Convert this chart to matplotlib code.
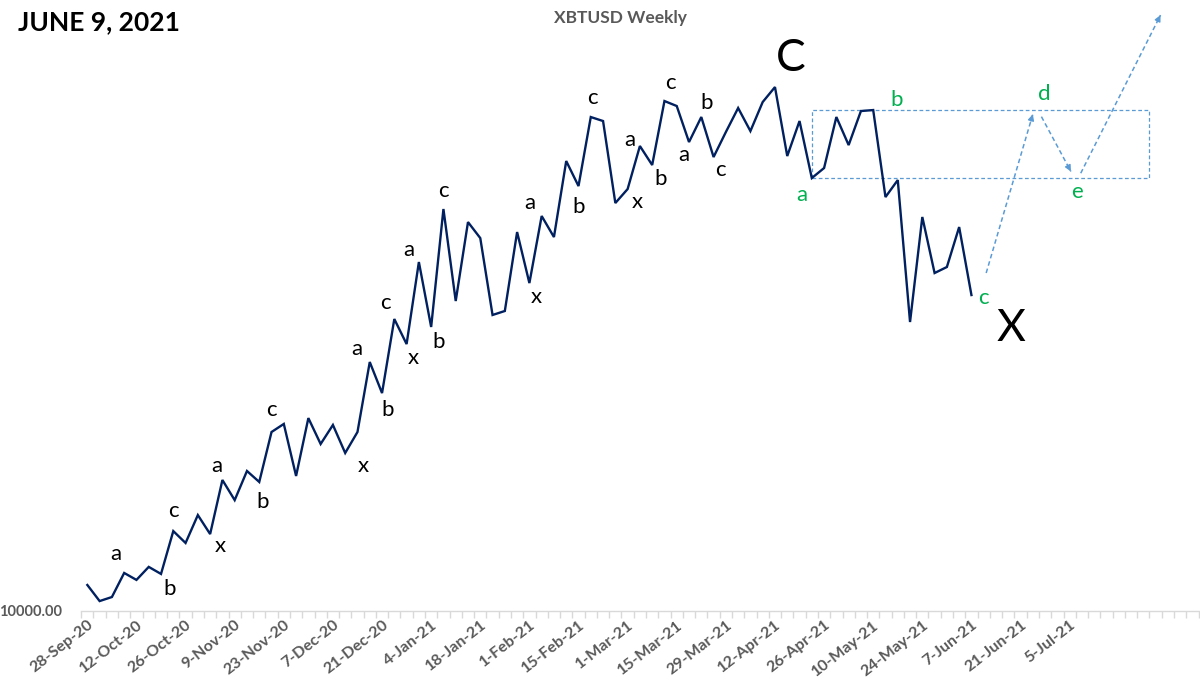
import numpy as np
import matplotlib
matplotlib.use("Agg")
import matplotlib.pyplot as plt
from matplotlib.ticker import FixedLocator, NullLocator

plt.rcParams['font.family'] = ['Lato', 'DejaVu Sans']

## data: XBTUSD, two closes per week starting 28-Sep-20
price = [10970, 10360, 10510, 11450, 11170, 11700, 11410, 13290, 12740, 14070,
         13150, 15940, 14840, 16460, 15830, 18910, 19460, 16170, 19870, 18120,
         19390, 17550, 18910, 24260, 21720, 28270, 25860, 34630, 27480, 41820,
         30140, 39920, 37710, 28680, 29090, 38530, 32130, 40790, 37850, 49610,
         45380, 58020, 57200, 42720, 44900, 52330, 48910, 61420, 60340, 53080,
         58020, 50320, 55000, 59910, 55190, 61200, 64550, 50500, 57200, 46690,
         48390, 58020, 52510, 59270, 59480, 43640, 46360, 27970, 40650, 33300,
         34020, 39220, 30790]

tick_labels = ["28-Sep-20", "12-Oct-20", "26-Oct-20", "9-Nov-20", "23-Nov-20",
               "7-Dec-20", "21-Dec-20", "4-Jan-21", "18-Jan-21", "1-Feb-21",
               "15-Feb-21", "1-Mar-21", "15-Mar-21", "29-Mar-21", "12-Apr-21",
               "26-Apr-21", "10-May-21", "24-May-21", "7-Jun-21", "21-Jun-21",
               "5-Jul-21"]
n_slots = 91  # categories on the axis (incl. empty future ones)

# triangle box (a-b range) and projected path d / e
box_x = [59, 86.5]
box_y = [46690, 59480]
fc_x0 = [73.2, 77.7, 80.9]
fc_y0 = [33300, 58100, 47500]
fc_x1 = [77.0, 80.1, 87.4]
fc_y1 = [58600, 47800, 83400]

# wave labels: text, point index, offset in pixels (dx, dy up)
black_labels = [("a", 3, -8, 19), ("b", 6, 9, -15), ("c", 7, 0, 20), ("x", 10, 10, -12),
                ("a", 11, -6, 14), ("b", 14, 3, -20), ("c", 15, 0, 22), ("x", 21, 18, -13),
                ("a", 23, -13, 13), ("b", 24, 6, -17), ("c", 25, -9, 16), ("x", 26, 7, -14),
                ("a", 27, -10, 12), ("b", 28, 7, -15), ("c", 29, 0, 18), ("x", 36, 7, -14),
                ("a", 37, -12, 13), ("b", 40, 0, -21), ("c", 41, 2, 19), ("a", 45, -10, 6),
                ("x", 44, 10, -13), ("b", 46, 8, -14), ("c", 47, 6, 18), ("a", 49, -5, -13),
                ("b", 50, 5, 14), ("c", 51, 7, -13)]
green_labels = [("a", 59, -10, -17), ("b", 64, 23, 10), ("c", 72, 12, -3)]

NAVY = "#002060"
BLUE = "#5B9BD5"
GREEN = "#00B050"
GRAY = "#595959"

fig = plt.figure(figsize=(12, 6.83), dpi=100)
ax = fig.add_axes([81.2/1200, 72/683, (1198.6-81.2)/1200, 611/683])

x = np.arange(len(price))
ax.plot(x, price, color=NAVY, lw=1.7, solid_joinstyle="miter", zorder=3)

ax.set_yscale("log")
ax.set_ylim(10000, 88000)
ax.set_xlim(-0.5, n_slots - 0.5)

# box
bx = [box_x[0], box_x[1], box_x[1], box_x[0], box_x[0]]
by = [box_y[0], box_y[0], box_y[1], box_y[1], box_y[0]]
ax.plot(bx, by, color=BLUE, lw=0.9, ls=(0, (3, 2)), zorder=2)

# projected path arrows
for x0, y0, x1, y1 in zip(fc_x0, fc_y0, fc_x1, fc_y1):
    ax.plot([x0, x1], [y0, y1], color=BLUE, lw=1.1, ls=(0, (3, 2)), zorder=2)
    p0 = ax.transData.transform((x0, y0))
    p1 = ax.transData.transform((x1, y1))
    u = (p1 - p0) / np.hypot(*(p1 - p0))
    ax.annotate("", xy=(x1, y1), xytext=(-7*u[0], -7*u[1]), textcoords="offset pixels",
                arrowprops=dict(arrowstyle="-|>", color=BLUE, lw=1.0, mutation_scale=9,
                                shrinkA=0, shrinkB=0), annotation_clip=False)

for t, i, dx, dy in black_labels:
    ax.annotate(t, xy=(i, price[i]), xytext=(dx, dy), textcoords="offset pixels",
                ha="center", va="center", fontsize=16, color="black")
for t, i, dx, dy in green_labels:
    ax.annotate(t, xy=(i, price[i]), xytext=(dx, dy), textcoords="offset pixels",
                ha="center", va="center", fontsize=16, color=GREEN)
ax.annotate("d", xy=(fc_x1[0], fc_y1[0]), xytext=(11, 20), textcoords="offset pixels",
            ha="center", va="center", fontsize=16, color=GREEN)
ax.annotate("e", xy=(fc_x1[1], fc_y1[1]), xytext=(6, -21), textcoords="offset pixels",
            ha="center", va="center", fontsize=16, color=GREEN)
ax.annotate("C", xy=(56, price[56]), xytext=(16, 29), textcoords="offset pixels",
            ha="center", va="center", fontsize=32, color="black")
ax.annotate("X", xy=(72, price[72]), xytext=(40, -33), textcoords="offset pixels",
            ha="center", va="center", fontsize=32, color="black")

# axes styling
for s in ["top", "right", "left"]:
    ax.spines[s].set_visible(False)
ax.spines["bottom"].set_color("#D9D9D9")
ax.spines["bottom"].set_linewidth(1.0)

ax.xaxis.set_major_locator(FixedLocator(np.arange(0, 4*len(tick_labels), 4)))
ax.set_xticklabels(tick_labels, rotation=38, ha="right", rotation_mode="anchor",
                   fontsize=11.5, fontweight="bold", color=GRAY)
ax.xaxis.set_minor_locator(FixedLocator(np.arange(n_slots + 1) - 0.5))
ax.tick_params(axis="x", which="major", length=0, pad=5)
ax.tick_params(axis="x", which="minor", length=5, color="#D9D9D9", width=1)

ax.yaxis.set_major_locator(FixedLocator([10000]))
ax.yaxis.set_minor_locator(NullLocator())
ax.set_yticklabels(["10000.00"], fontsize=10.5, fontweight="bold", color=GRAY)
ax.tick_params(axis="y", length=0, pad=14)

fig.text(18/1200, 1 - 22/683, "JUNE 9, 2021", fontsize=19, fontweight="bold",
         color="black", ha="left", va="center")
fig.text(620/1200, 1 - 18/683, "XBTUSD Weekly", fontsize=12.5, fontweight="bold",
         color=GRAY, ha="center", va="center")

fig.savefig("out.png", dpi=100)
